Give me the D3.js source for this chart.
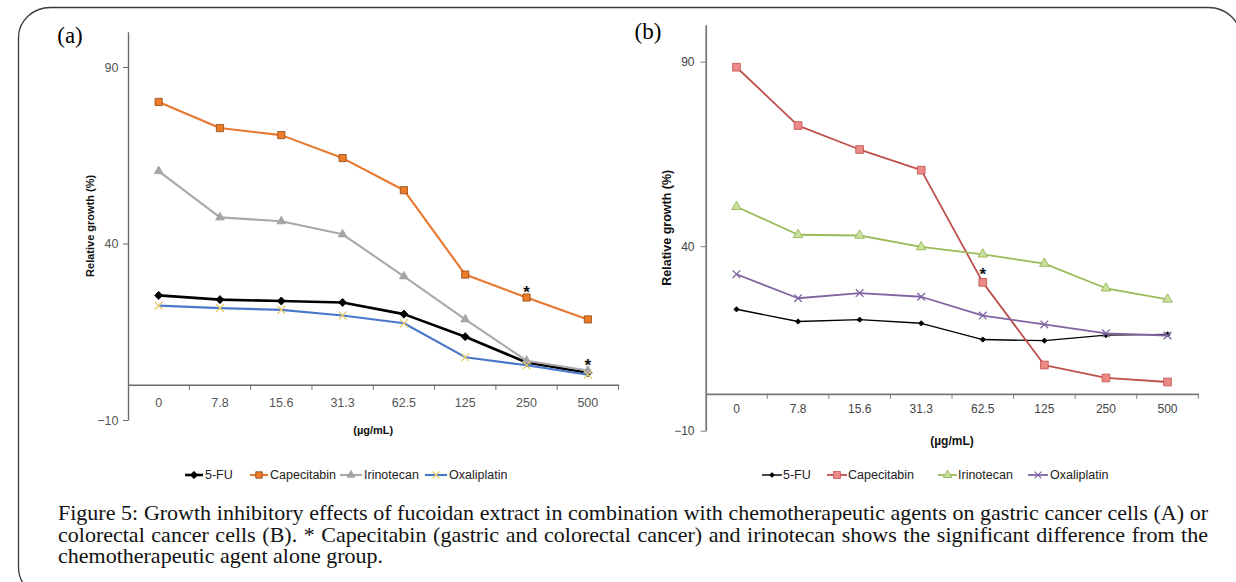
<!DOCTYPE html>
<html>
<head>
<meta charset="utf-8">
<script src="https://cdn.jsdelivr.net/npm/d3@7"></script>
<style>
  html, body { margin: 0; padding: 0; background: #fff; }
  svg { display: block; }
</style>
</head>
<body>
<div id="chart"></div>
<script>
// concentrations (µg/mL), shared by both panels
var categories = ['0', '7.8', '15.6', '31.3', '62.5', '125', '250', '500'];
var seriesNames = ['5-FU', 'Capecitabin', 'Irinotecan', 'Oxaliplatin'];
var yTicks = [-10, 40, 90];
var yDomain = [-10, 100];

// (a) gastric cancer cells, relative growth (%)
var gastric5FU = [25.3, 24.1, 23.7, 23.3, 20.0, 13.6, 6.3, 3.4];
var gastricCapecitabin = [80.1, 72.7, 70.7, 64.2, 55.1, 31.2, 24.7, 18.5];
var gastricIrinotecan = [60.5, 47.4, 46.3, 42.6, 30.7, 18.5, 6.8, 4.0];
var gastricOxaliplatin = [22.4, 21.7, 21.2, 19.6, 17.4, 7.8, 5.5, 2.8];
var gastricStars = [['Capecitabin', '250'], ['Irinotecan', '500']];

// (b) colorectal cancer cells, relative growth (%)
var colo5FU = [22.9, 19.6, 20.1, 19.1, 14.7, 14.4, 15.9, 16.1];
var coloCapecitabin = [88.5, 72.7, 66.2, 60.6, 30.2, 7.8, 4.3, 3.2];
var coloIrinotecan = [50.7, 43.1, 42.9, 39.8, 37.8, 35.3, 28.6, 25.6];
var coloOxaliplatin = [32.4, 25.9, 27.3, 26.3, 21.2, 18.8, 16.4, 15.8];
var coloStars = [['Capecitabin', '62.5']];

var captionLines = [
  'Figure 5: Growth inhibitory effects of fucoidan extract in combination with chemotherapeutic agents on gastric cancer cells (A) or',
  'colorectal cancer cells (B). * Capecitabin (gastric and colorectal cancer) and irinotecan shows the significant difference from the',
  'chemotherapeutic agent alone group.'
];

var W = 1236, H = 582;
var svg = d3.select('#chart').append('svg').attr('width', W).attr('height', H);

// page frame with rounded corners
svg.append('rect')
  .attr('x', 18.5).attr('y', 7.5)
  .attr('width', 1222).attr('height', 590)
  .attr('rx', 32).attr('ry', 30)
  .attr('fill', 'none').attr('stroke', '#3a3a3a').attr('stroke-width', 1.3);

var panels = [
  {
    label: '(a)', labelX: 70, labelY: 43,
    x0: 128, x1: 618.5, y90: 67, yMinus10: 420,
    axisColor: '#6b6b6b', axisWidth: 1.4,
    tickFont: '"Liberation Sans Narrow", "Liberation Sans", Arial, sans-serif', tickSize: 12.5,
    tickColor: '#555', xTickGap: 17.7, yTickRight: 118.5,
    yLabelX: 90, yLabelSize: 11, xLabelY: 430, xLabelSize: 11,
    legendY: 475, legendFont: '"Liberation Sans Narrow", "Liberation Sans", Arial, sans-serif', legendSize: 12.5,
    legendPos: [[185, 203, 205], [250, 268, 270], [340, 362, 364], [425, 447, 449]],
    values: [gastric5FU, gastricCapecitabin, gastricIrinotecan, gastricOxaliplatin],
    stars: gastricStars, starGap: 10,
    styles: [
      { line: '#000000', width: 2.6, sym: d3.symbolDiamond2, size: 42, fill: '#000', stroke: '#000' },
      { line: '#E8782F', width: 2.1, sym: d3.symbolSquare, size: 52, fill: '#F07B26', stroke: '#8A4A1A' },
      { line: '#A9A9A9', width: 2.1, sym: d3.symbolTriangle, size: 34, fill: '#A5A5A5', stroke: '#A5A5A5' },
      { line: '#4A78C8', width: 2.1, sym: d3.symbolX, size: 42, fill: 'none', stroke: '#E6CB6E' }
    ]
  },
  {
    label: '(b)', labelX: 648, labelY: 39,
    x0: 705.7, x1: 1198.3, y90: 61.7, yMinus10: 430.7,
    axisColor: '#7a7a7a', axisWidth: 1.8,
    tickFont: '"Liberation Sans", Arial, sans-serif', tickSize: 12,
    tickColor: '#444', xTickGap: 15, yTickRight: 694.5,
    yLabelX: 667, yLabelSize: 12.5, xLabelY: 441, xLabelSize: 12,
    legendY: 475, legendFont: '"Liberation Sans", Arial, sans-serif', legendSize: 12.5,
    legendPos: [[762, 782, 783], [827, 847, 848], [938, 957, 958], [1028, 1048, 1050]],
    values: [colo5FU, coloCapecitabin, coloIrinotecan, coloOxaliplatin],
    stars: coloStars, starGap: 13,
    styles: [
      { line: '#000000', width: 1.4, sym: d3.symbolDiamond2, size: 18, fill: '#000', stroke: '#000' },
      { line: '#C0504D', width: 1.8, sym: d3.symbolSquare, size: 60, fill: '#EC8A88', stroke: '#C0504D' },
      { line: '#9BBB59', width: 1.8, sym: d3.symbolTriangle, size: 40, fill: '#C9E09A', stroke: '#8FB04C' },
      { line: '#8064A2', width: 1.8, sym: d3.symbolX, size: 40, fill: 'none', stroke: '#8064A2' }
    ]
  }
];

panels.forEach(drawPanel);

function drawPanel(p) {
  var g = svg.append('g');
  var x = d3.scaleBand().domain(categories).range([p.x0, p.x1]).paddingInner(0).paddingOuter(0);
  // the 90 and -10 ticks pin the pixel scale; the axis runs on to 100
  var pin = d3.scaleLinear().domain([-10, 90]).range([p.yMinus10, p.y90]);
  var y = d3.scaleLinear().domain(yDomain).range([pin(yDomain[0]), pin(yDomain[1])]);
  var cx = function (c) { return x(c) + x.bandwidth() / 2; };

  // y axis
  var yAxis = g.append('g')
    .attr('transform', 'translate(' + p.x0 + ',0)')
    .call(d3.axisLeft(y).tickValues(yTicks).tickSize(5).tickPadding(4).tickSizeOuter(0));
  yAxis.select('.domain').attr('stroke', p.axisColor).attr('stroke-width', p.axisWidth);
  yAxis.selectAll('.tick line').attr('stroke', p.axisColor).attr('stroke-width', 1);
  yAxis.selectAll('.tick text')
    .attr('x', p.yTickRight - p.x0)
    .attr('dy', '0.35em')
    .style('font-family', p.tickFont)
    .style('font-size', p.tickSize + 'px')
    .attr('fill', p.tickColor);

  // x axis at y = 0, ticks between categories
  var xAxis = g.append('g')
    .attr('transform', 'translate(0,' + y(0) + ')')
    .call(d3.axisBottom(x).tickSize(0).tickPadding(p.xTickGap).tickSizeOuter(0));
  xAxis.select('.domain').attr('stroke', p.axisColor).attr('stroke-width', p.axisWidth);
  xAxis.selectAll('.tick text')
    .attr('dy', '0.35em')
    .style('font-family', p.tickFont)
    .style('font-size', p.tickSize + 'px')
    .attr('fill', p.tickColor);
  xAxis.selectAll('.sep')
    .data(categories)
    .enter().append('line')
    .attr('class', 'sep')
    .attr('x1', function (c) { return x(c) + x.step(); })
    .attr('x2', function (c) { return x(c) + x.step(); })
    .attr('y1', 0).attr('y2', 5)
    .attr('stroke', p.axisColor).attr('stroke-width', 1);

  // axis titles
  var yMid = (y(yDomain[1]) + y(yDomain[0])) / 2;
  g.append('text')
    .attr('transform', 'translate(' + p.yLabelX + ',' + yMid + ') rotate(-90)')
    .attr('text-anchor', 'middle').attr('dy', '0.35em')
    .style('font-family', '"Liberation Sans", Arial, sans-serif')
    .style('font-weight', 'bold').style('font-size', p.yLabelSize + 'px')
    .attr('fill', '#111')
    .text('Relative growth (%)');
  g.append('text')
    .attr('x', (p.x0 + p.x1) / 2).attr('y', p.xLabelY)
    .attr('text-anchor', 'middle').attr('dy', '0.35em')
    .style('font-family', '"Liberation Sans", Arial, sans-serif')
    .style('font-weight', 'bold').style('font-size', p.xLabelSize + 'px')
    .attr('fill', '#111')
    .text('(µg/mL)');

  // panel letter
  g.append('text')
    .attr('x', p.labelX).attr('y', p.labelY)
    .attr('text-anchor', 'middle')
    .style('font-family', '"Liberation Serif", "DejaVu Serif", serif')
    .style('font-size', '23px')
    .attr('fill', '#000')
    .text(p.label);

  // series
  var line = d3.line()
    .x(function (d) { return cx(d.c); })
    .y(function (d) { return y(d.v); });

  seriesNames.forEach(function (name, i) {
    var st = p.styles[i];
    var pts = categories.map(function (c, j) { return { c: c, v: p.values[i][j] }; });
    g.append('path')
      .datum(pts)
      .attr('d', line)
      .attr('fill', 'none')
      .attr('stroke', st.line)
      .attr('stroke-width', st.width)
      .attr('stroke-linejoin', 'round');
    g.selectAll('.m' + i)
      .data(pts)
      .enter().append('path')
      .attr('class', 'm' + i)
      .attr('transform', function (d) { return 'translate(' + cx(d.c) + ',' + y(d.v) + ')'; })
      .attr('d', d3.symbol().type(st.sym).size(st.size))
      .attr('fill', st.fill)
      .attr('stroke', st.stroke)
      .attr('stroke-width', st.sym === d3.symbolX ? 1.3 : 0.8);

    // legend entry
    var lp = p.legendPos[i];
    var lg = g.append('g');
    lg.append('line')
      .attr('x1', lp[0]).attr('x2', lp[1])
      .attr('y1', p.legendY).attr('y2', p.legendY)
      .attr('stroke', st.line).attr('stroke-width', st.width);
    lg.append('path')
      .attr('transform', 'translate(' + ((lp[0] + lp[1]) / 2) + ',' + p.legendY + ')')
      .attr('d', d3.symbol().type(st.sym).size(st.size * 0.8))
      .attr('fill', st.fill)
      .attr('stroke', st.stroke)
      .attr('stroke-width', st.sym === d3.symbolX ? 1.2 : 0.8);
    lg.append('text')
      .attr('x', lp[2]).attr('y', p.legendY)
      .attr('dy', '0.35em')
      .style('font-family', p.legendFont)
      .style('font-size', p.legendSize + 'px')
      .attr('fill', '#222')
      .text(name);
  });

  // significance asterisks
  p.stars.forEach(function (s) {
    var si = seriesNames.indexOf(s[0]);
    var v = p.values[si][categories.indexOf(s[1])];
    g.append('text')
      .attr('x', cx(s[1])).attr('y', y(v) - p.starGap)
      .attr('dy', '0.6em')
      .attr('text-anchor', 'middle')
      .style('font-family', '"Liberation Sans", Arial, sans-serif')
      .style('font-size', '17px').style('font-weight', 'bold')
      .attr('fill', '#111')
      .text('*');
  });
}

// caption: justified serif text, horizontally condensed like the source
var capX = 58, capRight = 1208, capSize = 22;
var baselines = [520, 541.7, 563.3];
var probe = svg.append('text')
  .style('font-family', '"Liberation Serif", "Times New Roman", serif')
  .style('font-size', capSize + 'px')
  .text('chemotherapeutic agent alo');
var squeeze = 242 / probe.node().getComputedTextLength();
probe.remove();

var cap = svg.append('g')
  .attr('transform', 'translate(' + capX + ',0) scale(' + squeeze + ',1)');
captionLines.forEach(function (txt, i) {
  var t = cap.append('text')
    .attr('x', 0).attr('y', baselines[i])
    .style('font-family', '"Liberation Serif", "Times New Roman", serif')
    .style('font-size', capSize + 'px')
    .attr('fill', '#111')
    .text(txt);
  if (i < captionLines.length - 1) {
    var natural = t.node().getComputedTextLength();
    var spaces = txt.split(' ').length - 1;
    var target = (capRight - capX) / squeeze;
    t.style('word-spacing', ((target - natural) / spaces) + 'px');
  }
});
</script>
</body>
</html>
